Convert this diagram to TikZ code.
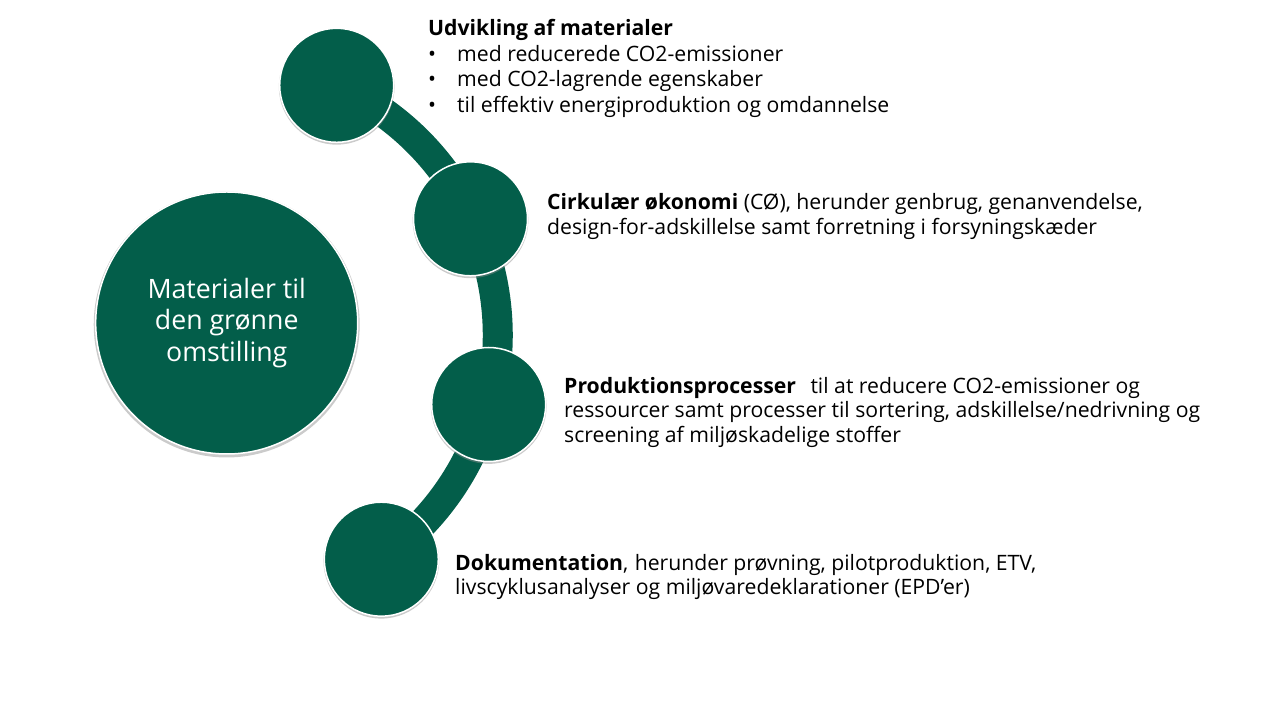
\documentclass[tikz,border=0pt]{standalone}
\usepackage{fontspec}
\setmainfont{Open Sans}
\usetikzlibrary{shadows}
\definecolor{dg}{RGB}{3,94,74}
\begin{document}
\begin{tikzpicture}[x=1pt,y=1pt,
  softshadow/.style={drop shadow={shadow xshift=0pt,shadow yshift=-1.5pt,shadow scale=1.015,fill=black!45,opacity=.45}},
  dot/.style={circle,fill=dg,draw=white,line width=1.5pt,minimum size=114pt,inner sep=0pt,softshadow},
  hub/.style={circle,fill=dg,draw=white,line width=1.5pt,minimum size=262pt,inner sep=0pt,text=white,align=center,font=\fontsize{26.7}{31.7}\selectfont,softshadow},
  lbl/.style={anchor=north west,inner sep=0pt,align=left,text=black},
  band/.style={draw=dg,line width=30pt}
]
\useasboundingbox (0,0) rectangle (1280,720);
\coordinate (arcc) at (224.2,385.1);
\draw[band] (arcc) ++(66:273.5) arc[start angle=66,end angle=-56,radius=273.5];
\node[hub] (hub) at (226.7,397) {Materialer til\\den grønne\\omstilling};
\node[dot] (d1) at (336.7,634.7) {};
\node[dot] (d2) at (470.5,501.2) {};
\node[dot] (d3) at (488.7,315.5) {};
\node[dot] (d4) at (381.3,160.8) {};
\node[lbl,font=\fontsize{21.2}{25.7}\selectfont] (t1) at (428,701.1) {\textbf{Udvikling af materialer}\\
\makebox[29pt][l]{•}med reducerede CO2-emissioner\\
\makebox[29pt][l]{•}med CO2-lagrende egenskaber\\
\makebox[29pt][l]{•}til effektiv energiproduktion og omdannelse};
\node[lbl,font=\fontsize{21.2}{25}\selectfont] (t2) at (547,526.8) {\textbf{Cirkulær økonomi} (CØ), herunder genbrug, genanvendelse,\\
design-for-adskillelse samt forretning i forsyningskæder};
\node[lbl,font=\fontsize{21.2}{24.3}\selectfont] (t3) at (564,342.8) {\textbf{Produktionsprocesser}\hspace{9pt} til at reducere CO2-emissioner og\\
ressourcer samt processer til sortering, adskillelse/nedrivning og\\
screening af miljøskadelige stoffer};
\node[lbl,font=\fontsize{21.2}{24}\selectfont] (t4) at (455,166.1) {\textbf{Dokumentation},\hspace{1pt} herunder prøvning, pilotproduktion, ETV,\\
livscyklusanalyser og miljøvaredeklarationer (EPD’er)};
\end{tikzpicture}
\end{document}
